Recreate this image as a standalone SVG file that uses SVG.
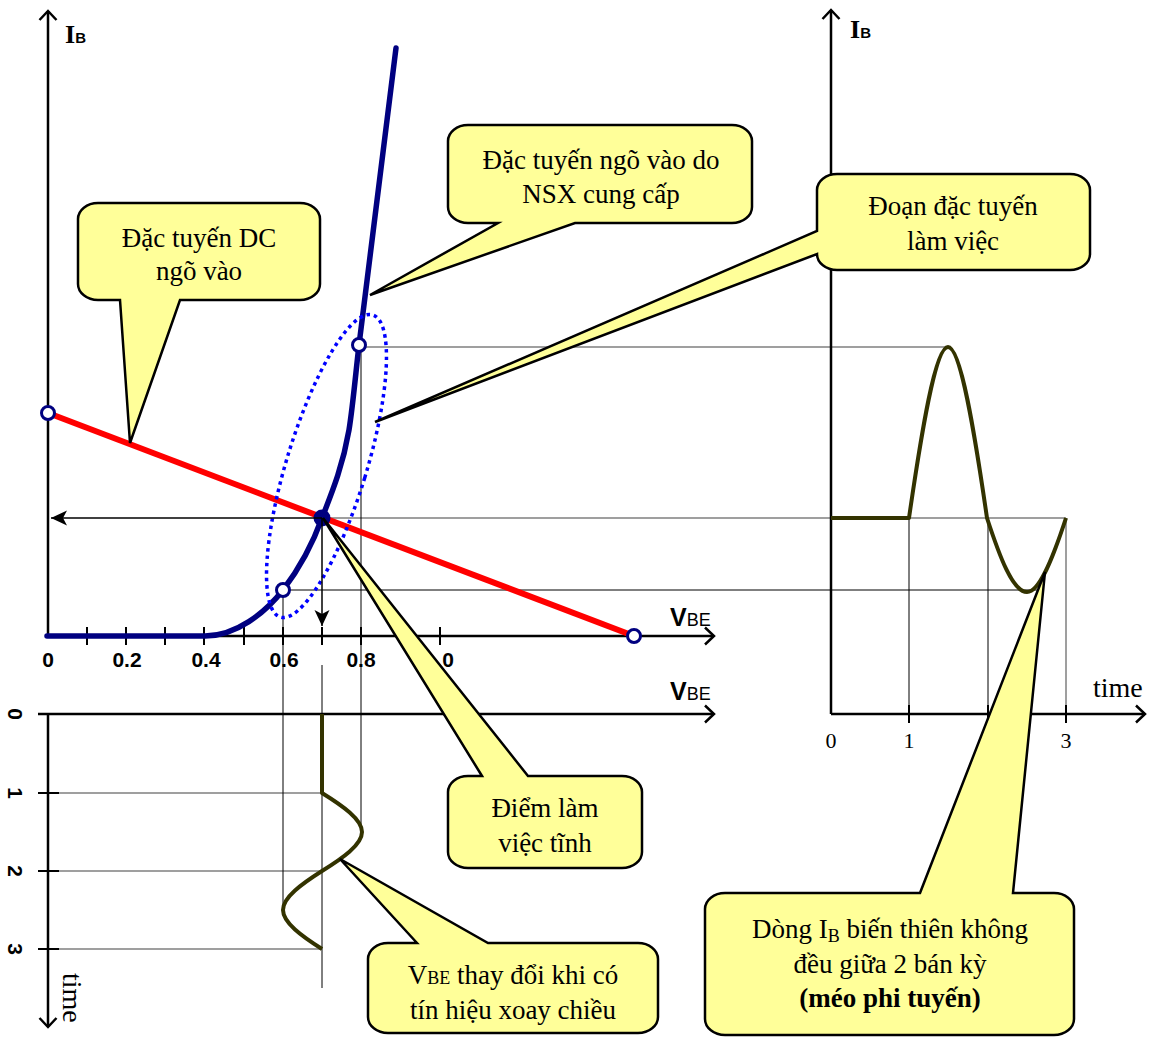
<svg xmlns="http://www.w3.org/2000/svg" width="1157" height="1037" viewBox="0 0 1157 1037">
<defs>
<marker id="open" markerUnits="userSpaceOnUse" viewBox="0 0 14 20" refX="11" refY="10" markerWidth="14" markerHeight="20" orient="auto">
<path d="M2,1.5 L11,10 L2,18.5" fill="none" stroke="#000" stroke-width="2.5"/>
</marker>
<marker id="solid" markerUnits="userSpaceOnUse" viewBox="0 0 16 16" refX="16" refY="8" markerWidth="16" markerHeight="16" orient="auto">
<path d="M0,0.5 L16,8 L0,15.5 L4,8 Z" fill="#000"/>
</marker>
</defs>
<style>
.ax{stroke:#000;stroke-width:2.5;fill:none}
.tk{stroke:#000;stroke-width:2;fill:none}
.g{stroke:#808080;stroke-width:1.5;fill:none}
.k{stroke:#000;stroke-width:1;fill:none}
.co{fill:#FFFF99;stroke:#000;stroke-width:2.5;stroke-linejoin:miter}
.ct{font-family:"Liberation Serif","Times New Roman",serif;font-size:27px;text-anchor:middle;fill:#000}
.num{font-family:"Liberation Sans",Arial,sans-serif;font-weight:bold;font-size:21px;text-anchor:middle;fill:#000}
.tn{font-family:"Liberation Serif","Times New Roman",serif;font-size:22px;text-anchor:middle;fill:#000}
.tm{font-family:"Liberation Serif","Times New Roman",serif;font-size:28px;fill:#000}
.sn{font-family:"Liberation Sans",Arial,sans-serif;fill:#000}
.oc{fill:#fff;stroke:#000080;stroke-width:3}
.sig{fill:none;stroke:#333300;stroke-width:4;stroke-linejoin:round}
</style>
<rect width="1157" height="1037" fill="#fff"/>

<g id="guides">
<path class="g" d="M322,518 H1066 M359,347 H948 M47,793 H322 M47,871 H322 M47,949 H322 M1066,518 V714"/>
<path class="k" stroke="#333" d="M283,590 H1043"/>
<path class="k" d="M283,590 V910 M361,347 V832 M322,665 V988 M909,518 V714 M988,518 V714"/>
</g>

<g id="axes">
<line class="ax" x1="48" y1="636" x2="48" y2="11" marker-end="url(#open)"/>
<line class="ax" x1="48" y1="636" x2="714" y2="636" marker-end="url(#open)"/>
<line class="ax" x1="38" y1="714" x2="714" y2="714" marker-end="url(#open)"/>
<line class="ax" x1="48" y1="714" x2="48" y2="1027" marker-end="url(#open)"/>
<line class="ax" x1="831" y1="714" x2="831" y2="10" marker-end="url(#open)"/>
<line class="ax" x1="831" y1="714" x2="1145" y2="714" marker-end="url(#open)"/>
<path class="tk" d="M87,627 V645 M126,627 V645 M165,627 V645 M204,627 V645 M244,627 V645 M283,627 V645 M322,627 V645 M361,627 V645 M401,627 V645 M440,627 V645"/>
<path class="tk" d="M909,705 V723 M988,705 V723 M1066,705 V723"/>
<path class="tk" d="M38,793 H59 M38,871 H59 M38,949 H59"/>
</g>

<g id="labels">
<text x="65" y="43"><tspan font-family="Liberation Serif, serif" font-weight="bold" font-size="26">I</tspan><tspan class="sn" font-weight="bold" font-size="15">B</tspan></text>
<text x="850" y="38"><tspan font-family="Liberation Serif, serif" font-weight="bold" font-size="26">I</tspan><tspan class="sn" font-weight="bold" font-size="15">B</tspan></text>
<text class="sn" x="670" y="626"><tspan font-size="25" font-weight="bold">V</tspan><tspan font-size="18">BE</tspan></text>
<text class="sn" x="670" y="700"><tspan font-size="25" font-weight="bold">V</tspan><tspan font-size="18">BE</tspan></text>
<text class="num" x="48" y="667">0</text>
<text class="num" x="127" y="667">0.2</text>
<text class="num" x="206" y="667">0.4</text>
<text class="num" x="284" y="667">0.6</text>
<text class="num" x="361" y="667">0.8</text>
<text class="num" x="448" y="667">0</text>
<text class="num" transform="translate(8,714) rotate(90)">0</text>
<text class="num" transform="translate(8,793) rotate(90)">1</text>
<text class="num" transform="translate(8,871) rotate(90)">2</text>
<text class="num" transform="translate(8,949) rotate(90)">3</text>
<text class="tm" transform="translate(63,973) rotate(90)">time</text>
<text class="tm" x="1093" y="697">time</text>
<text class="tn" x="831" y="748">0</text>
<text class="tn" x="909" y="748">1</text>
<text class="tn" x="1066" y="748">3</text>
</g>

<g id="curves">
<line x1="48" y1="413" x2="634" y2="636" stroke="#FF0000" stroke-width="6"/>
<path d="M47,636 H205 C236,636 265,613 283,590 C299,569 313,543 322,518 C333,490 343,465 349,430 C353,405 356,370 359,345 L396,48" fill="none" stroke="#000080" stroke-width="5.5" stroke-linecap="round" stroke-linejoin="round"/>
<ellipse cx="326.5" cy="466" rx="40" ry="158" transform="rotate(17 326.5 466)" fill="none" stroke="#0000FF" stroke-width="3.5" stroke-dasharray="3.5 4"/>
<path class="sig" d="M831,518 H909 C921.7,430.4 935.3,347 948,347 C960.7,347 974.3,430.4 987,518 C999.4,555.9 1012.6,592 1027,592 C1040,592 1053.6,555.9 1066,518"/>
<path class="sig" d="M322,714 V793 C342.5,805.7 362,819.3 362,832 C362,844.7 342.5,858.3 322,871 C302,883.7 283,897.3 283,910 C283,922.7 302,936.3 322,949"/>
<circle class="oc" cx="48" cy="413" r="6.5"/>
<circle class="oc" cx="634" cy="636" r="6.5"/>
<circle class="oc" cx="283" cy="590" r="6.5"/>
<circle class="oc" cx="359" cy="345" r="6.5"/>
<circle cx="322" cy="518" r="8.5" fill="#000080"/>
</g>

<g id="connectors">
<line x1="322" y1="518" x2="51" y2="518" stroke="#000" stroke-width="1.5" marker-end="url(#solid)"/>
<line x1="322" y1="518" x2="322" y2="626" stroke="#000" stroke-width="1.5" marker-end="url(#solid)"/>
</g>

<g id="callout-dc">
<path class="co" d="M98,203 H300 A20,16 0 0 1 320,219 V284 A20,16 0 0 1 300,300 H180 L130,443 L120,300 H98 A20,16 0 0 1 78,284 V219 A20,16 0 0 1 98,203 Z"/>
<text class="ct" x="199" y="247">Đặc tuyến DC</text>
<text class="ct" x="199" y="280">ngõ vào</text>
</g>

<g id="callout-nsx">
<path class="co" d="M468,125 H732 A20,16 0 0 1 752,141 V207 A20,16 0 0 1 732,223 H575 L370,295 L498,223 H468 A20,16 0 0 1 448,207 V141 A20,16 0 0 1 468,125 Z"/>
<text class="ct" x="601" y="169">Đặc tuyến ngõ vào do</text>
<text class="ct" x="601" y="203">NSX cung cấp</text>
</g>

<g id="callout-doan">
<path class="co" d="M837,174 H1070 A20,16 0 0 1 1090,190 V254 A20,16 0 0 1 1070,270 H837 A20,16 0 0 1 817,254 L375,422 L817,231 V190 A20,16 0 0 1 837,174 Z"/>
<text class="ct" x="953" y="215">Đoạn đặc tuyến</text>
<text class="ct" x="953" y="250">làm việc</text>
</g>

<g id="callout-q">
<path class="co" d="M482,776 L323,518 L528,776 H622 A20,16 0 0 1 642,792 V852 A20,16 0 0 1 622,868 H468 A20,16 0 0 1 448,852 V792 A20,16 0 0 1 468,776 Z"/>
<text class="ct" x="545" y="817">Điểm làm</text>
<text class="ct" x="545" y="852">việc tĩnh</text>
</g>

<g id="callout-vbe">
<path class="co" d="M417,943 L340,859 L488,943 H638 A20,16 0 0 1 658,959 V1017 A20,16 0 0 1 638,1033 H388 A20,16 0 0 1 368,1017 V959 A20,16 0 0 1 388,943 Z"/>
<text class="ct" x="513" y="984">V<tspan font-size="18">BE</tspan> thay đổi khi có</text>
<text class="ct" x="513" y="1019">tín hiệu xoay chiều</text>
</g>

<g id="callout-ib">
<path class="co" d="M920,893 L1045,572 L1013,893 H1054 A20,16 0 0 1 1074,909 V1019 A20,16 0 0 1 1054,1035 H725 A20,16 0 0 1 705,1019 V909 A20,16 0 0 1 725,893 Z"/>
<text class="ct" x="890" y="938">Dòng I<tspan font-size="18" dy="4">B</tspan><tspan dy="-4"> biến thiên không</tspan></text>
<text class="ct" x="890" y="973">đều giữa 2 bán kỳ</text>
<text class="ct" x="890" y="1007" font-weight="bold">(méo phi tuyến)</text>
</g>
</svg>
